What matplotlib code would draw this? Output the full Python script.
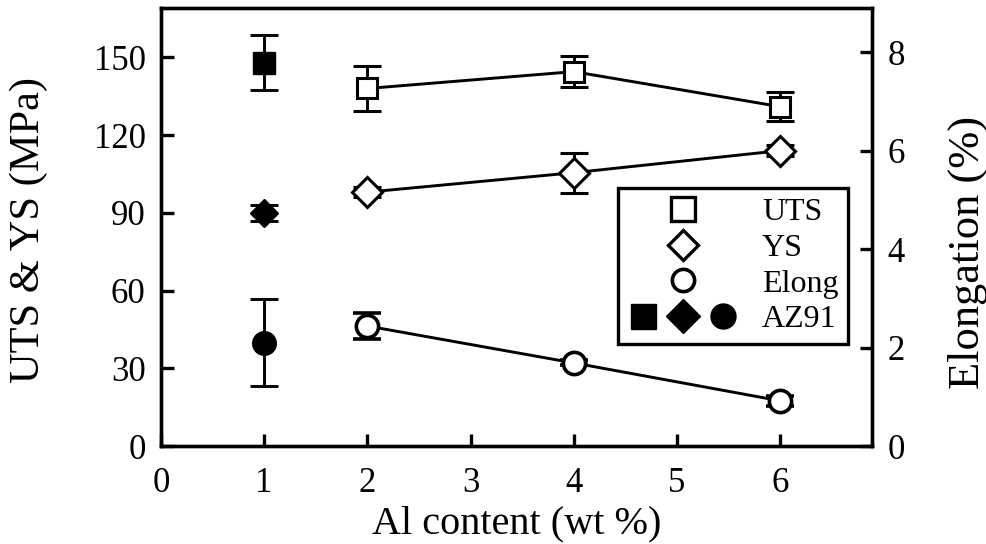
import matplotlib
matplotlib.use("Agg")
import matplotlib.pyplot as plt
from matplotlib.legend_handler import HandlerTuple
from matplotlib.lines import Line2D

# Al-alloyed samples
al_content = [2, 4, 6]
uts = [138, 144.5, 131]
uts_err = [8.5, 6, 5.5]
ys = [98, 105.5, 114]
ys_err = [2, 7.7, 2]
elong = [2.44, 1.69, 0.92]
elong_err = [0.27, 0.05, 0.1]

# AZ91 reference
az91_x = [1]
az91_uts = [148]
az91_uts_err = [10.5]
az91_ys = [90]
az91_ys_err = [3]
az91_elong = [2.1]
az91_elong_err = [0.88]

plt.rcParams['font.family'] = ['Liberation Serif', 'DejaVu Serif']

fig = plt.figure(figsize=(9.87, 5.44), dpi=100)
ax = fig.add_axes([0.163, 0.180, 0.7205, 0.805])
ax2 = ax.twinx()

lw = 2.1
eb = dict(color='black', elinewidth=lw, capsize=10, capthick=lw)

ax.errorbar(al_content, uts, yerr=uts_err, marker='s', mfc='white', mec='black',
            mew=2.2, ms=15, lw=lw, zorder=3, **eb)
ax.errorbar(al_content, ys, yerr=ys_err, marker='D', mfc='white', mec='black',
            mew=2.2, ms=15, lw=lw, zorder=3, **eb)
ax2.errorbar(al_content, elong, yerr=elong_err, marker='o', mfc='white', mec='black',
             mew=2.6, ms=16, lw=lw, zorder=3, **eb)

ax.errorbar(az91_x, az91_uts, yerr=az91_uts_err, marker='s', mfc='black', mec='black',
            ms=16, ls='none', zorder=3, **eb)
ax.errorbar(az91_x, az91_ys, yerr=az91_ys_err, marker='D', mfc='black', mec='black',
            ms=14, ls='none', zorder=3, **eb)
ax2.errorbar(az91_x, az91_elong, yerr=az91_elong_err, marker='o', mfc='black', mec='black',
             ms=17, ls='none', zorder=3, **eb)

ax.set_xlim(0, 6.89)
ax.set_ylim(0, 169)
ax2.set_ylim(0, 8.9)
ax.set_xticks(range(0, 7))
ax.set_yticks(range(0, 151, 30))
ax2.set_yticks(range(0, 9, 2))

for a in (ax, ax2):
    for s in a.spines.values():
        s.set_linewidth(2.4)
ax.tick_params(axis='both', direction='in', length=9, width=2.4, labelsize=25)
ax.tick_params(axis='x', pad=15)
ax.tick_params(axis='y', pad=11)
ax2.tick_params(axis='y', direction='in', length=9, width=2.4, labelsize=25, pad=11)

ax.set_xlabel('Al content (wt %)', fontsize=29, va='center')
ax.set_ylabel('UTS & YS (MPa)', fontsize=30.5)
ax2.set_ylabel('Elongation (%)', fontsize=32)
ax.xaxis.set_label_coords(0.5, -0.178)
ax.yaxis.set_label_coords(-0.159, 0.493)
ax2.yaxis.set_label_coords(1.1055, 0.443)

# legend: open symbols for each property, filled trio for AZ91
h_uts = Line2D([], [], ls='none', marker='s', mfc='white', mec='black', mew=2.4, ms=17)
h_ys = Line2D([], [], ls='none', marker='D', mfc='white', mec='black', mew=2.4, ms=15)
h_el = Line2D([], [], ls='none', marker='o', mfc='white', mec='black', mew=2.6, ms=16)
h_az = (Line2D([], [], ls='none', marker='s', color='black', ms=18),
        Line2D([], [], ls='none', marker='D', color='black', ms=17),
        Line2D([], [], ls='none', marker='o', color='black', ms=18))
leg = ax2.legend([h_uts, h_ys, h_el, h_az], ['UTS', 'YS', 'Elong', 'AZ91'],
                 handler_map={tuple: HandlerTuple(ndivide=None, pad=0.3)},
                 loc='upper left', bbox_to_anchor=(0.643, 0.589), borderaxespad=0,
                 fontsize=23, handlelength=3.45, handletextpad=0.75, labelspacing=0.2,
                 borderpad=0.3, fancybox=False, framealpha=1, edgecolor='black',
                 numpoints=1)
leg.get_frame().set_linewidth(2.4)

fig.savefig('out.png', dpi=100)
